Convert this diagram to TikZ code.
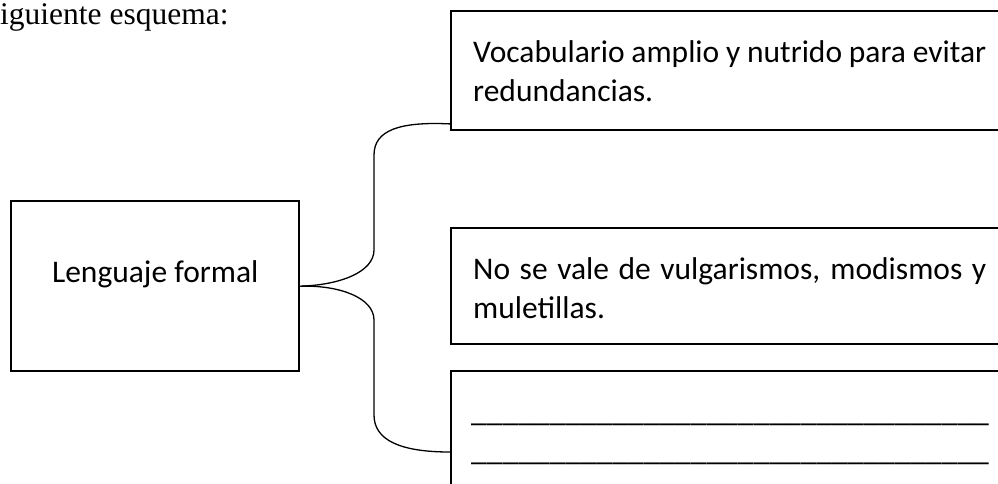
\documentclass[tikz,border=0pt]{standalone}
\usepackage{fontspec}
\setmainfont{Carlito}
\newfontfamily\headfont{Liberation Serif}
\usetikzlibrary{calc}

\begin{document}
\begin{tikzpicture}[x=1pt, y=-1pt,
        caja/.style={draw, rectangle, line width=2.4pt, inner ysep=0pt, anchor=north west},
        texto/.style={font=\fontsize{31.5}{39}\selectfont},
        llave/.style={line width=1.3pt}]
        \useasboundingbox (0,0) rectangle (998,483);
        \clip (0,0) rectangle (998,483);

        \node[anchor=base west, inner sep=0pt, font=\headfont\fontsize{31.5}{36}\selectfont] (titulo) at (0,24) {iguiente esquema:};

        \node[caja, texto, minimum width=288pt, text height=81pt, text depth=89pt] (formal) at (10,200) {Lenguaje formal};
        \node[caja, texto, inner xsep=22pt, text width=513pt, align=justify, text height=52pt, text depth=67pt] (vocab) at (450,9.5) {Vocabulario amplio y nutrido para evitar\linebreak redundancias.};
        \node[caja, texto, inner xsep=22pt, text width=513pt, align=justify, text height=51pt, text depth=65pt] (vulgar) at (450,227) {No se vale de vulgarismos, modismos y\linebreak muletillas.};
        \node[caja, texto, inner xsep=20pt, text width=515pt, align=left, text height=50pt, text depth=150pt] (blank) at (450,370) {\_\_\_\_\_\_\_\_\_\_\_\_\_\_\_\_\_\_\_\_\_\_\_\_\_\_\_\_\_\_\_\_\_\\\_\_\_\_\_\_\_\_\_\_\_\_\_\_\_\_\_\_\_\_\_\_\_\_\_\_\_\_\_\_\_\_\_};

        % puntos de llegada de la llave
        \coordinate (arriba) at ($(vocab.south west)+(0,-7)$);
        \coordinate (abajo) at ($(blank.north west)+(0,82)$);

        \draw[llave] (formal.east) .. controls (340,285) and (374,272) .. (374,250) -- (374,155) .. controls (374,130) and (400,121.5) .. (arriba);
        \draw[llave] (formal.east) .. controls (340,285) and (374,298) .. (374,320) -- (374,415) .. controls (374,440) and (400,452) .. (abajo);
    \end{tikzpicture}
\end{document}
